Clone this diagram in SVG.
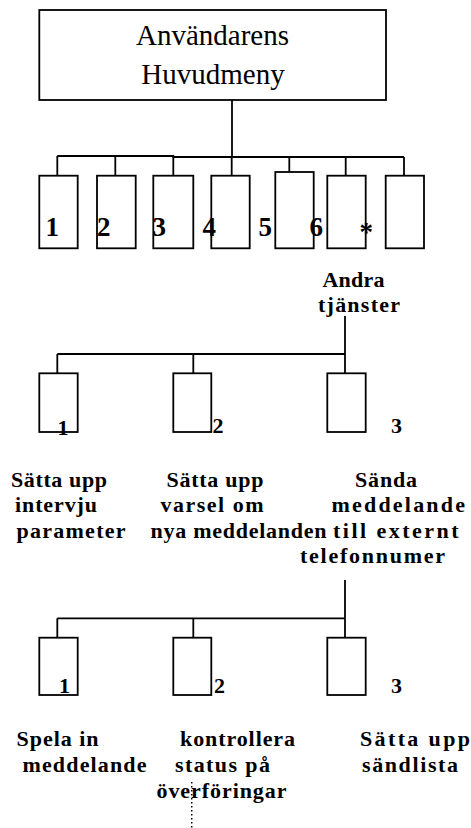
<svg xmlns="http://www.w3.org/2000/svg" width="471" height="828" viewBox="0 0 471 828">
<style>
.box{fill:#fff;stroke:#000;stroke-width:1.8}
.ln{fill:none;stroke:#000;stroke-width:1.8}
.title{font-family:"Liberation Serif","Times New Roman",serif;font-size:29px;fill:#000;text-anchor:middle}
.num{font-family:"Liberation Serif","Times New Roman",serif;font-weight:bold;font-size:27px;fill:#000}
.num2{font-family:"Liberation Serif","Times New Roman",serif;font-weight:bold;font-size:22px;fill:#000}
.lbl{font-family:"Liberation Serif","Times New Roman",serif;font-weight:bold;font-size:22px;fill:#000}
</style>
<rect width="471" height="828" fill="#fff"/>
<g id="connectors">
<line class="ln" x1="232" y1="100" x2="232" y2="157"/>
<polyline class="ln" points="57.3,156 173.3,156 173.3,157 404,157"/>
<line class="ln" x1="57.3" y1="156" x2="57.3" y2="176"/>
<line class="ln" x1="115.3" y1="156" x2="115.3" y2="176"/>
<line class="ln" x1="173.3" y1="156" x2="173.3" y2="176"/>
<line class="ln" x1="231.7" y1="157" x2="231.7" y2="176"/>
<line class="ln" x1="289.3" y1="157" x2="289.3" y2="177"/>
<line class="ln" x1="345.7" y1="157" x2="345.7" y2="176"/>
<line class="ln" x1="404" y1="157" x2="404" y2="176"/>
<line class="ln" x1="345" y1="316" x2="345" y2="354"/>
<line class="ln" x1="57.3" y1="354" x2="345" y2="354"/>
<line class="ln" x1="57.3" y1="354" x2="57.3" y2="373.3"/>
<line class="ln" x1="193.3" y1="354" x2="193.3" y2="373.3"/>
<line class="ln" x1="345" y1="354" x2="345" y2="373.3"/>
<line class="ln" x1="345" y1="580" x2="345" y2="618.3"/>
<line class="ln" x1="57.3" y1="618.3" x2="345" y2="618.3"/>
<line class="ln" x1="57.3" y1="618.3" x2="57.3" y2="637.7"/>
<line class="ln" x1="193.3" y1="618.3" x2="193.3" y2="637.7"/>
<line class="ln" x1="345" y1="618.3" x2="345" y2="637.7"/>
<line x1="191.7" y1="782" x2="191.7" y2="828" stroke="#000" stroke-width="1.5" stroke-dasharray="1.5,2.5"/>
</g>
<g id="main">
<rect class="box" x="39.3" y="10" width="346.7" height="90"/>
<text class="title" x="212.5" y="45">Användarens</text>
<text class="title" x="213" y="84">Huvudmeny</text>
</g>
<g id="m1"><rect class="box" x="39.3" y="175.7" width="38.4" height="72.6"/><text class="num" x="45.5" y="236">1</text></g>
<g id="m2"><rect class="box" x="97" y="175.7" width="38.7" height="72.6"/><text class="num" x="97" y="236">2</text></g>
<g id="m3"><rect class="box" x="153.3" y="175.7" width="40" height="72.6"/><text class="num" x="152.5" y="236">3</text></g>
<g id="m4"><rect class="box" x="211.3" y="175.7" width="38.4" height="72.6"/><text class="num" x="202.5" y="236">4</text></g>
<g id="m5"><rect class="box" x="275.3" y="172" width="38.4" height="76.3"/><text class="num" x="258.5" y="236">5</text></g>
<g id="m6"><rect class="box" x="327.3" y="175.7" width="38.4" height="72.6"/><text class="num" x="309.5" y="236">6</text></g>
<g id="mstar"><rect class="box" x="385.7" y="175.7" width="38.3" height="72.6"/><text class="num" x="359.5" y="241">*</text></g>
<g id="andra">
<text class="lbl" x="322.5" y="286.5" textLength="62" lengthAdjust="spacing">Andra</text>
<text class="lbl" x="318" y="311.5" textLength="82" lengthAdjust="spacing">tjänster</text>
</g>
<g id="a1"><rect class="box" x="39.3" y="373.3" width="38.4" height="58.7"/><text class="num2" x="57.5" y="435">1</text></g>
<g id="a2"><rect class="box" x="173.3" y="373.3" width="38" height="58.7"/><text class="num2" x="212.5" y="433.3">2</text></g>
<g id="a3"><rect class="box" x="327.3" y="373.3" width="38.4" height="58.7"/><text class="num2" x="391" y="433.3">3</text></g>
<g id="a1lbl">
<text class="lbl" x="11" y="487" textLength="96" lengthAdjust="spacing">Sätta upp</text>
<text class="lbl" x="15" y="512" textLength="82" lengthAdjust="spacing">intervju</text>
<text class="lbl" x="16.5" y="537.5" textLength="109" lengthAdjust="spacing">parameter</text>
</g>
<g id="a2lbl">
<text class="lbl" x="166.5" y="487" textLength="97" lengthAdjust="spacing">Sätta upp</text>
<text class="lbl" x="160.5" y="512" textLength="103" lengthAdjust="spacing">varsel om</text>
<text class="lbl" x="150.5" y="537.5" textLength="176" lengthAdjust="spacing">nya meddelanden</text>
</g>
<g id="a3lbl">
<text class="lbl" x="355" y="487" textLength="62" lengthAdjust="spacing">Sända</text>
<text class="lbl" x="331.5" y="512" textLength="133.5" lengthAdjust="spacing">meddelande</text>
<text class="lbl" x="333" y="537.5" textLength="125.5" lengthAdjust="spacing">till externt</text>
<text class="lbl" x="300" y="563" textLength="145" lengthAdjust="spacing">telefonnumer</text>
</g>
<g id="b1"><rect class="box" x="39.3" y="637.7" width="38.4" height="57.3"/><text class="num2" x="59" y="693.3">1</text></g>
<g id="b2"><rect class="box" x="173.3" y="637.7" width="38" height="57.3"/><text class="num2" x="214" y="693.3">2</text></g>
<g id="b3"><rect class="box" x="327.3" y="637.7" width="38.4" height="57.3"/><text class="num2" x="391" y="693.3">3</text></g>
<g id="b1lbl">
<text class="lbl" x="16.5" y="746" textLength="82" lengthAdjust="spacing">Spela in</text>
<text class="lbl" x="22.5" y="771.5" textLength="124" lengthAdjust="spacing">meddelande</text>
</g>
<g id="b2lbl">
<text class="lbl" x="180" y="746" textLength="115" lengthAdjust="spacing">kontrollera</text>
<text class="lbl" x="175" y="771.5" textLength="95" lengthAdjust="spacing">status på</text>
<text class="lbl" x="156.5" y="797.5" textLength="130" lengthAdjust="spacing">överföringar</text>
</g>
<g id="b3lbl">
<text class="lbl" x="360" y="746" textLength="110" lengthAdjust="spacing">Sätta upp</text>
<text class="lbl" x="362" y="771.5" textLength="96" lengthAdjust="spacing">sändlista</text>
</g>
</svg>
